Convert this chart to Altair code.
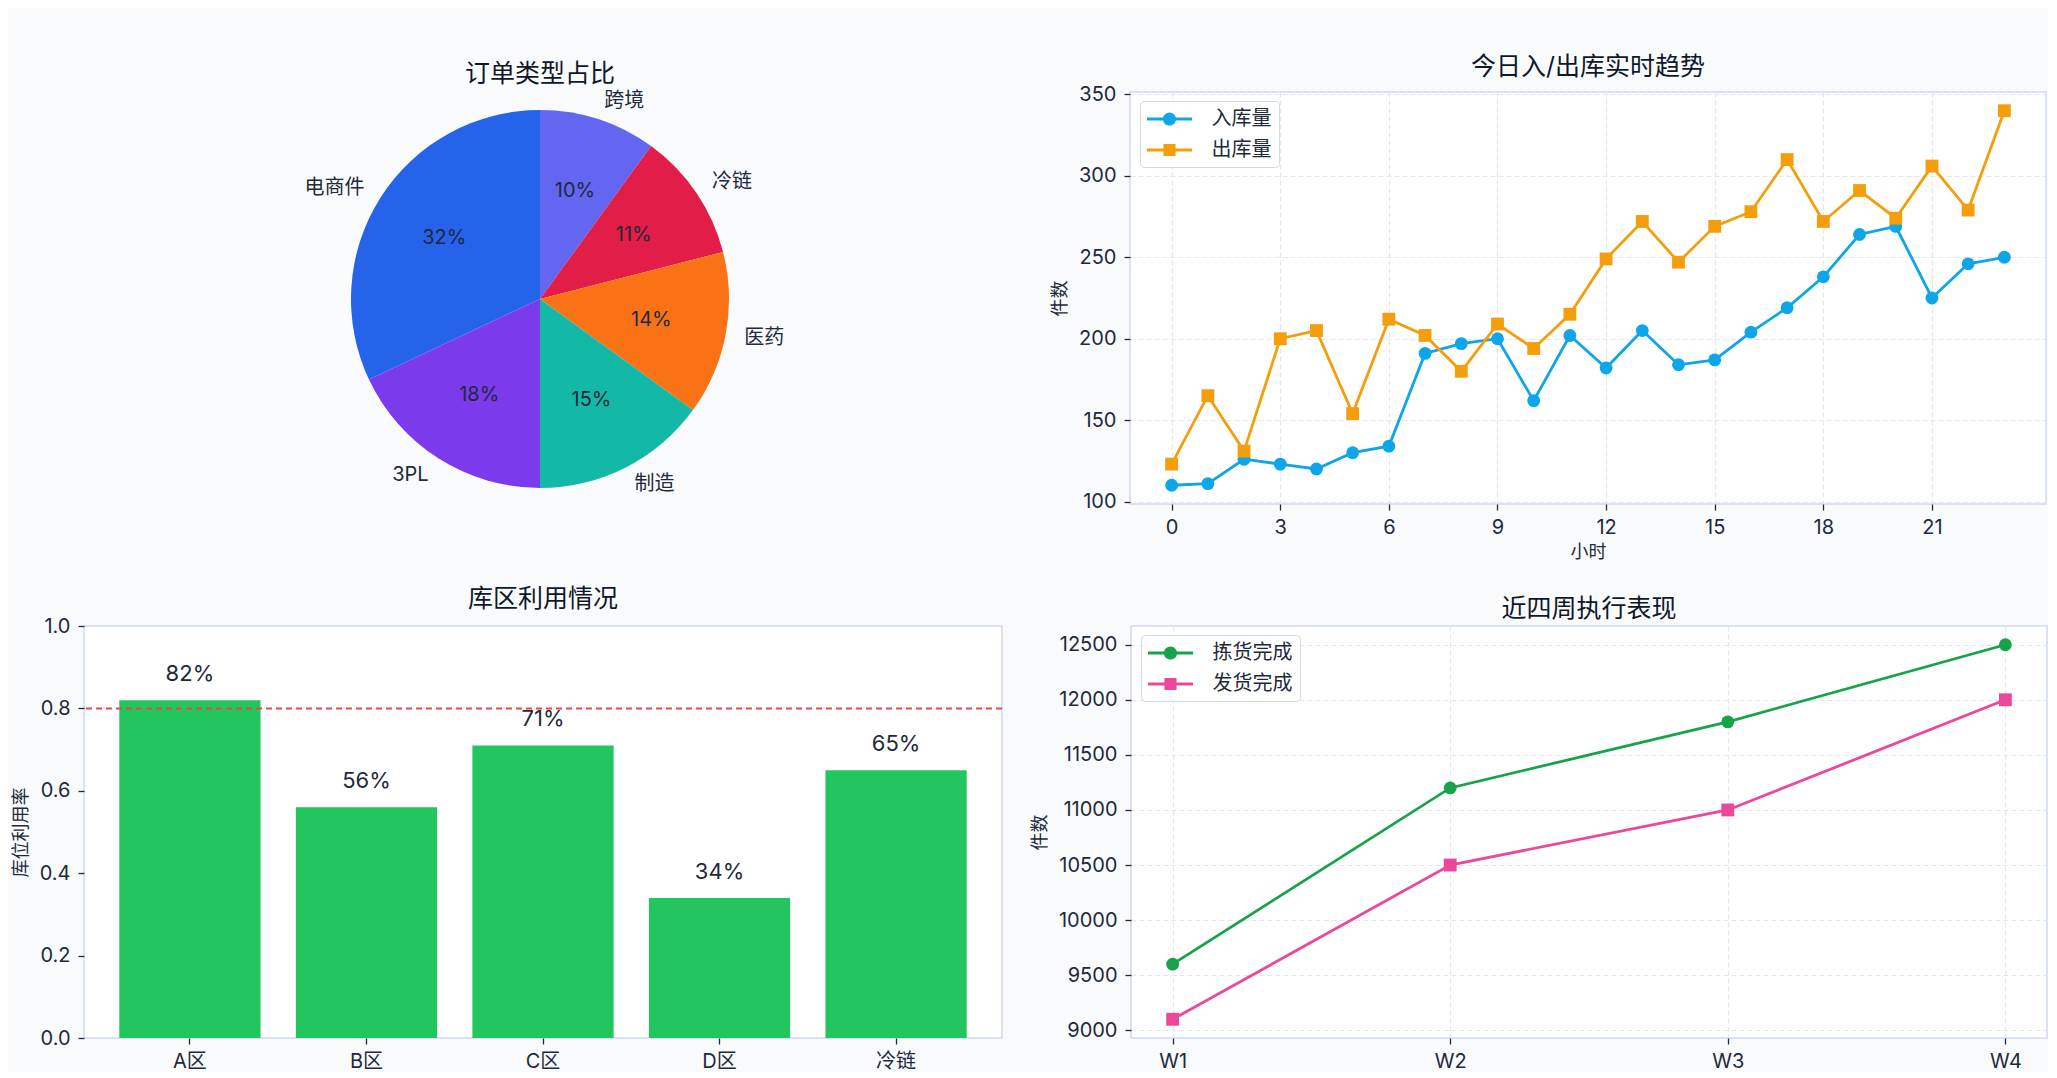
import altair as alt
import pandas as pd

FONT = "Inter, 'Noto Sans CJK SC'"
INK = "#1e293b"
FRAME = "#d0d9f0"
GRID = "#e1e6ef"
BG = "#f8fafc"

# 订单类型占比 (clockwise from 12 o'clock)
order_types = ["跨境", "冷链", "医药", "制造", "3PL", "电商件"]
order_share = [10, 11, 14, 15, 18, 32]
order_colors = ["#6366f1", "#e11d48", "#f97316", "#14b8a6", "#7c3aed", "#2563eb"]

# 今日入/出库实时趋势
hours = list(range(24))
inbound = [110, 111, 126, 123, 120, 130, 134, 191, 197, 200, 162, 202,
           182, 205, 184, 187, 204, 219, 238, 264, 269, 225, 246, 250]
outbound = [123, 165, 131, 200, 205, 154, 212, 202, 180, 209, 194, 215,
            249, 272, 247, 269, 278, 310, 272, 291, 274, 306, 279, 340]
flow_names = ["入库量", "出库量"]
flow_colors = ["#0ea5e9", "#f59e0b"]

# 库区利用情况
zones = ["A区", "B区", "C区", "D区", "冷链"]
utilization = [0.82, 0.56, 0.71, 0.34, 0.65]
target = 0.8

# 近四周执行表现
weeks = ["W1", "W2", "W3", "W4"]
picked = [9600, 11200, 11800, 12500]
shipped = [9100, 10500, 11000, 12000]
week_names = ["拣货完成", "发货完成"]
week_colors = ["#16a34a", "#ec4899"]


def legend_paths():
    # line + marker drawn as one filled glyph, like matplotlib's legend handles
    line = "M-2.045,-0.13H2.045V0.13H-2.045Z"
    circle = line + "M0.6,0A0.6,0.6,0,1,1,-0.6,0A0.6,0.6,0,1,1,0.6,0Z"
    square = line + "M-0.55,-0.55H0.55V0.55H-0.55Z"
    return [circle, square]


def series_legend():
    return alt.Legend(
        title=None, orient="none", legendX=10, legendY=9, padding=7, rowPadding=10,
        symbolSize=484, symbolOffset=11.5, symbolStrokeWidth=0, labelOffset=31,
        labelFont=FONT, labelFontSize=20, labelColor=INK,
        fillColor="#ffffff", strokeColor=FRAME, cornerRadius=4,
    )


def trend(df, x, y, names, colors, title, width, height):
    first = f"datum.series == '{names[0]}'"
    color = alt.condition(first, alt.value(colors[0]), alt.value(colors[1]))
    base = alt.Chart(df)
    lines = base.mark_line(strokeWidth=2.8).encode(x=x, y=y, color=color, detail="series:N")
    marks = base.mark_point(filled=True, opacity=1, size=165).encode(
        x=x, y=y, color=color,
        shape=alt.condition(first, alt.value("circle"), alt.value("square")),
    )
    # legend carrier: same rows, pushed outside the clipped plot so only its legend shows
    key = base.mark_point(filled=True, opacity=1, clip=True).encode(
        x=alt.value(-400), y=alt.value(-400),
        fill=alt.Fill("series:N", scale=alt.Scale(domain=names, range=colors), legend=series_legend()),
        shape=alt.Shape("series:N", scale=alt.Scale(domain=names, range=legend_paths()),
                        legend=series_legend()),
    )
    return alt.layer(lines, marks, key).properties(width=width, height=height, title=title)


def independent(chart):
    return chart.resolve_scale(
        color="independent", fill="independent", shape="independent"
    ).resolve_legend(fill="independent", shape="independent")


W_BAR, W_RIGHT, H = 918, 916, 412

# ---- pie
pie_df = pd.DataFrame({"name": order_types, "share": order_share, "rank": list(range(len(order_types)))})
pie_base = (
    alt.Chart(pie_df)
    .transform_stack(stack="share", groupby=[], as_=["s0", "s1"],
                     sort=[alt.SortField(field="rank", order="ascending")])
    .transform_calculate(mid="(datum.s0 + datum.s1) / 2", pct="datum.share + '%'")
)
theta_scale = alt.Scale(domain=[0, 100])
# pie view starts where the bar plot area starts (column origins are aligned)
cx, cy, r = 456, 207, 189
wedges = pie_base.mark_arc(outerRadius=r).encode(
    theta=alt.Theta("s0:Q", scale=theta_scale),
    theta2="s1:Q",
    color=alt.Color("name:N", scale=alt.Scale(domain=order_types, range=order_colors), legend=None),
    x=alt.value(cx), y=alt.value(cy),
)
pcts = pie_base.mark_text(radius=r * 0.6, fontSize=20, color=INK).encode(
    theta=alt.Theta("mid:Q", scale=theta_scale), text="pct:N", x=alt.value(cx), y=alt.value(cy),
)
names_right = pie_base.transform_filter("datum.mid < 50").mark_text(
    radius=r * 1.1, align="left", baseline="middle", fontSize=20, color=INK
).encode(theta=alt.Theta("mid:Q", scale=theta_scale), text="name:N", x=alt.value(cx), y=alt.value(cy))
names_left = pie_base.transform_filter("datum.mid >= 50").mark_text(
    radius=r * 1.1, align="right", baseline="middle", fontSize=20, color=INK
).encode(theta=alt.Theta("mid:Q", scale=theta_scale), text="name:N", x=alt.value(cx), y=alt.value(cy))
pie = alt.layer(wedges, pcts, names_right, names_left).properties(
    width=952, height=H, title=alt.Title("订单类型占比", dx=-20),
    view=alt.ViewBackground(fill="transparent", stroke="transparent"),
)

# ---- hourly trend
flow_df = pd.DataFrame({
    "hour": hours * 2,
    "series": [flow_names[0]] * len(hours) + [flow_names[1]] * len(hours),
    "count": inbound + outbound,
})
flow = trend(
    flow_df,
    alt.X("hour:Q", scale=alt.Scale(domain=[-1.15, 24.15], nice=False, zero=False),
          axis=alt.Axis(values=list(range(0, 24, 3)), title="小时", grid=True,
                        labelPadding=7, titlePadding=6)),
    alt.Y("count:Q", scale=alt.Scale(domain=[98.5, 351.5], nice=False, zero=False),
          axis=alt.Axis(values=[100, 150, 200, 250, 300, 350], title="件数", grid=True,
                        minExtent=48, maxExtent=48, titlePadding=13)),
    flow_names, flow_colors, "今日入/出库实时趋势", W_RIGHT, H,
)

# ---- utilization bars
bar_df = pd.DataFrame({"zone": zones, "util": utilization})
bar_x = alt.X("zone:N", sort=zones, scale=alt.Scale(paddingInner=0.2, paddingOuter=0.2),
              axis=alt.Axis(title=None, labelAngle=0, grid=False, labelPadding=7))
util_axis = alt.Axis(values=[0.0, 0.2, 0.4, 0.6, 0.8, 1.0], format=".1f", title="库位利用率",
                     grid=False, minExtent=46, maxExtent=46, titlePadding=8)
util_scale = alt.Scale(domain=[0, 1], nice=False)
bars = alt.Chart(bar_df).mark_bar(color="#22c55e").encode(
    x=bar_x, y=alt.Y("util:Q", scale=util_scale, axis=util_axis)
)
bar_text = alt.Chart(bar_df).mark_text(baseline="bottom", dy=-14, fontSize=22, color=INK).encode(
    x=bar_x, y=alt.Y("util:Q", scale=util_scale, axis=util_axis),
    text=alt.Text("util:Q", format=".0%"),
)
threshold = alt.Chart(pd.DataFrame({"util": [target]})).mark_rule(
    color="#ef4444", strokeDash=[6, 4], strokeWidth=2
).encode(y=alt.Y("util:Q", scale=util_scale, axis=util_axis))
usage = alt.layer(bars, threshold, bar_text).properties(width=W_BAR, height=H, title="库区利用情况")

# ---- weekly performance
week_df = pd.DataFrame({
    "week": weeks * 2,
    "series": [week_names[0]] * len(weeks) + [week_names[1]] * len(weeks),
    "count": picked + shipped,
})
weekly = trend(
    week_df,
    alt.X("week:N", sort=weeks, scale=alt.Scale(type="point", padding=0.15),
          axis=alt.Axis(title=None, labelAngle=0, grid=True, labelPadding=7)),
    alt.Y("count:Q", scale=alt.Scale(domain=[8930, 12670], nice=False, zero=False),
          axis=alt.Axis(values=[9000, 9500, 10000, 10500, 11000, 11500, 12000, 12500], format="d",
                        title="件数", grid=True, minExtent=70, maxExtent=70, titlePadding=12)),
    week_names, week_colors, "近四周执行表现", W_RIGHT, H,
)

chart = (
    independent(alt.vconcat(
        independent(alt.hconcat(pie, flow, spacing=13)),
        independent(alt.hconcat(usage, weekly, spacing=26)),
        spacing=24,
    ))
    .properties(padding={"left": 3, "top": 46, "right": 0, "bottom": 0})
    .configure(font=FONT, background=BG)
    .configure_view(fill="#ffffff", stroke=FRAME, strokeWidth=1.5)
    .configure_title(font=FONT, fontSize=25, fontWeight="normal", color="#0f172a",
                     offset=0, anchor="middle", frame="group")
    .configure_axis(
        domain=False, labelFont=FONT, labelFontSize=20, labelColor=INK, labelPadding=8,
        tickColor=INK, tickSize=6, tickWidth=1.3,
        titleFont=FONT, titleFontSize=18, titleFontWeight="normal", titleColor=INK,
        gridColor=GRID, gridDash=[5, 3], gridWidth=1.2,
    )
)

chart.save("out.html", embed_options={"renderer": "svg", "actions": False})
